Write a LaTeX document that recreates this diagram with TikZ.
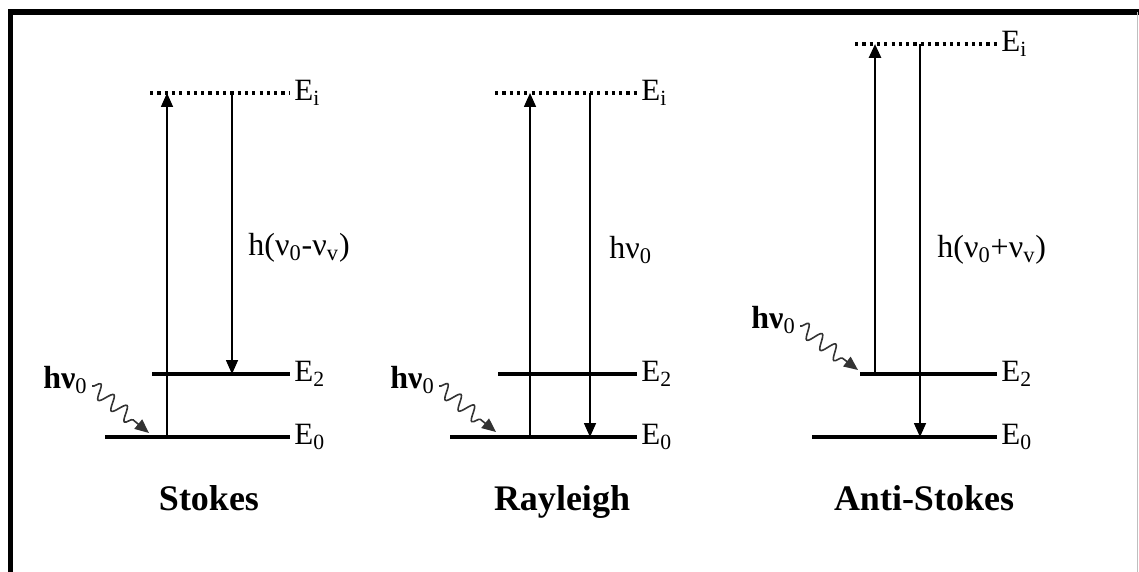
\documentclass[tikz,border=0pt]{standalone}
\usepackage{fontspec}
\setmainfont{Liberation Serif}
\usetikzlibrary{arrows.meta, positioning, decorations.pathmorphing}

\begin{document}
\begin{tikzpicture}[
  x=0.5pt, y=-0.5pt,
  frame/.style={line width=2.6pt, line join=miter},
  level/.style={line width=2pt},
  virtual/.style={line width=1.6pt, dash pattern=on 1.6pt off 2.05pt},
  arrow/.style={-{Triangle[length=7pt, width=6pt]}, line width=0.8pt},
  photon/.style={-{Triangle[length=7pt, width=6pt]}, line width=0.8pt, black!80,
                 decorate, decoration={snake, amplitude=3.6pt, segment length=8.5pt,
                 post length=7pt}},
  elabel/.style={inner sep=0pt, font=\fontsize{15.5}{17}\selectfont},
  hlabel/.style={inner sep=0pt, anchor=west, font=\fontsize{16}{18}\selectfont},
  title/.style={inner sep=0pt, anchor=base, font=\fontsize{18}{20}\selectfont\bfseries}
]
  \useasboundingbox (0,0) rectangle (1139,572);

  \coordinate (fbl) at (10.5,572);
  \coordinate (ftl) at (10.5,12);
  \coordinate (ftr) at (1139,12);
  \coordinate (frt) at (1137.5,12);
  \coordinate (frb) at (1137.5,572);
  \draw[frame] (fbl) -- (ftl) -- (ftr);
  \draw[black!25, line width=0.6pt] (frt) -- (frb);

  % Stokes
  \coordinate (s0a) at (105,437); \coordinate (s0b) at (290,437);
  \coordinate (s2a) at (152,374); \coordinate (s2b) at (290,374);
  \coordinate (sia) at (150,93);  \coordinate (sib) at (290,93);
  \draw[level] (s0a) -- (s0b);
  \draw[level] (s2a) -- (s2b);
  \draw[virtual] (sia) -- (sib);
  \node[elabel, right=2pt of s0b] (s0) {E\textsubscript{0}};
  \node[elabel, right=2pt of s2b] (s2) {E\textsubscript{2}};
  \node[elabel, right=2pt of sib] (si) {E\textsubscript{i}};
  \coordinate (sup) at (167,0); \coordinate (sdn) at (232,0);
  \draw[arrow] (sup |- s0a) -- (sup |- sia);
  \draw[arrow] (sdn |- sia) -- (sdn |- s2a);
  \node[hlabel] (semit) at (248,248) {h(ν\textsubscript{0}-ν\textsubscript{v})};
  \node[hlabel] (sph) at (43,380) {\textbf{hν}\textsubscript{0}};
  \coordinate (stip) at (149,433);
  \draw[photon] ([shift={(4,6)}]sph.east) -- (stip);
  \node[title] (stitle) at (209,510) {Stokes};

  % Rayleigh
  \coordinate (r0a) at (450,437); \coordinate (r0b) at (637,437);
  \coordinate (r2a) at (498,374); \coordinate (r2b) at (637,374);
  \coordinate (ria) at (495,93);  \coordinate (rib) at (637,93);
  \draw[level] (r0a) -- (r0b);
  \draw[level] (r2a) -- (r2b);
  \draw[virtual] (ria) -- (rib);
  \node[elabel, right=2pt of r0b] (r0) {E\textsubscript{0}};
  \node[elabel, right=2pt of r2b] (r2) {E\textsubscript{2}};
  \node[elabel, right=2pt of rib] (ri) {E\textsubscript{i}};
  \coordinate (rup) at (530,0); \coordinate (rdn) at (590,0);
  \draw[arrow] (rup |- r0a) -- (rup |- ria);
  \draw[arrow] (rdn |- ria) -- (rdn |- r0a);
  \node[hlabel] (remit) at (609,250) {hν\textsubscript{0}};
  \node[hlabel] (rph) at (390,380) {\textbf{hν}\textsubscript{0}};
  \coordinate (rtip) at (496,432);
  \draw[photon] ([shift={(4,6)}]rph.east) -- (rtip);
  \node[title] (rtitle) at (562,510) {Rayleigh};

  % Anti-Stokes
  \coordinate (a0a) at (812,437); \coordinate (a0b) at (997,437);
  \coordinate (a2a) at (860,374); \coordinate (a2b) at (997,374);
  \coordinate (aia) at (855,44);  \coordinate (aib) at (997,44);
  \draw[level] (a0a) -- (a0b);
  \draw[level] (a2a) -- (a2b);
  \draw[virtual] (aia) -- (aib);
  \node[elabel, right=2pt of a0b] (a0) {E\textsubscript{0}};
  \node[elabel, right=2pt of a2b] (a2) {E\textsubscript{2}};
  \node[elabel, right=2pt of aib] (ai) {E\textsubscript{i}};
  \coordinate (aup) at (875,0); \coordinate (adn) at (920,0);
  \draw[arrow, line width=1.4pt] (aup |- a2a) -- (aup |- aia);
  \draw[arrow] (adn |- aia) -- (adn |- a0a);
  \node[hlabel] (aemit) at (937,250) {h(ν\textsubscript{0}+ν\textsubscript{v})};
  \node[hlabel] (aph) at (751,320) {\textbf{hν}\textsubscript{0}};
  \coordinate (atip) at (858,370);
  \draw[photon] ([shift={(4,6)}]aph.east) -- (atip);
  \node[title] (atitle) at (924,510) {Anti-Stokes};
\end{tikzpicture}
\end{document}
